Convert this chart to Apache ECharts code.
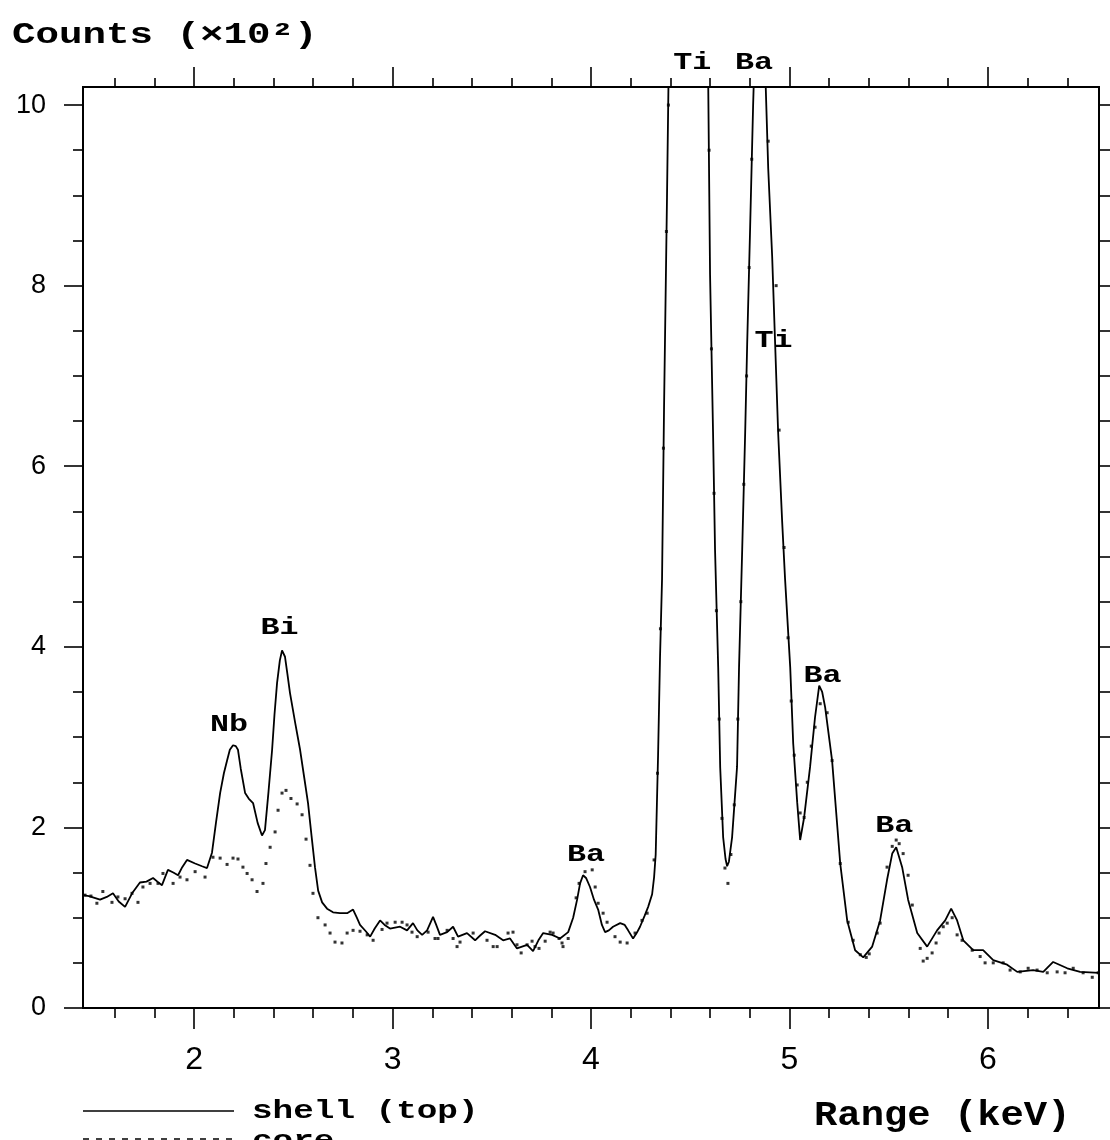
<!DOCTYPE html>
<html>
<head>
<meta charset="utf-8">
<script src="https://cdn.jsdelivr.net/npm/echarts@6/dist/echarts.min.js"></script>
<style>
  html, body { margin: 0; background: #fff; }
  #chart { width: 1110px; height: 1140px; }
</style>
</head>
<body>
<div id="chart"></div>
<script>
// spectrum (keV, counts x100)
const shellKeV = [
    1.44, 1.47, 1.526, 1.56, 1.591, 1.62, 1.652, 1.69, 1.727, 1.76, 1.793, 1.815, 1.838, 1.868, 1.895, 1.919,
    1.94, 1.964, 2.005, 2.04, 2.065, 2.09, 2.11, 2.131, 2.15, 2.166, 2.18, 2.196, 2.21, 2.221, 2.235, 2.257,
    2.275, 2.297, 2.32, 2.342, 2.357, 2.375, 2.393, 2.405, 2.418, 2.432, 2.443, 2.458, 2.47, 2.483, 2.51, 2.534,
    2.555, 2.574, 2.592, 2.609, 2.625, 2.645, 2.67, 2.7, 2.735, 2.771, 2.801, 2.82, 2.836, 2.865, 2.887, 2.91,
    2.937, 2.96, 2.987, 3.038, 3.073, 3.103, 3.125, 3.149, 3.174, 3.204, 3.22, 3.239, 3.275, 3.305, 3.33, 3.375,
    3.416, 3.44, 3.466, 3.517, 3.557, 3.592, 3.627, 3.678, 3.708, 3.735, 3.759, 3.804, 3.844, 3.885, 3.91, 3.93,
    3.945, 3.96, 3.975, 3.995, 4.015, 4.036, 4.055, 4.071, 4.09, 4.111, 4.147, 4.17, 4.187, 4.212, 4.23, 4.247,
    4.27, 4.288, 4.308, 4.318, 4.326, 4.338, 4.348, 4.358, 4.368, 4.383, 4.392, 4.44, 4.49, 4.54, 4.59, 4.6,
    4.615, 4.625, 4.641, 4.651, 4.666, 4.678, 4.686, 4.695, 4.711, 4.736, 4.746, 4.762, 4.777, 4.787, 4.802, 4.817,
    4.825, 4.85, 4.875, 4.893, 4.913, 4.928, 4.943, 4.963, 4.978, 5.004, 5.019, 5.039, 5.054, 5.074, 5.104, 5.129,
    5.15, 5.165, 5.18, 5.215, 5.256, 5.291, 5.331, 5.372, 5.417, 5.457, 5.492, 5.518, 5.538, 5.568, 5.598, 5.644,
    5.694, 5.744, 5.785, 5.815, 5.845, 5.876, 5.926, 5.976, 6.027, 6.097, 6.148, 6.228, 6.279, 6.329, 6.4, 6.465,
    6.56
];
const shellCounts = [
    1.25, 1.24, 1.2, 1.23, 1.27, 1.18, 1.12, 1.28, 1.39, 1.4, 1.44, 1.4, 1.36, 1.53, 1.5, 1.47,
    1.56, 1.64, 1.6, 1.57, 1.55, 1.72, 2.05, 2.38, 2.6, 2.74, 2.86, 2.91, 2.9, 2.86, 2.65, 2.38,
    2.32, 2.27, 2.05, 1.91, 1.97, 2.4, 2.86, 3.25, 3.6, 3.85, 3.96, 3.89, 3.7, 3.49, 3.15, 2.86,
    2.55, 2.27, 1.9, 1.56, 1.3, 1.17, 1.1, 1.06, 1.05, 1.05, 1.09, 1.0, 0.92, 0.85, 0.79, 0.88,
    0.97, 0.92, 0.88, 0.9, 0.86, 0.94, 0.86, 0.81, 0.86, 1.01, 0.92, 0.81, 0.84, 0.9, 0.79, 0.83,
    0.75, 0.8, 0.85, 0.81, 0.75, 0.77, 0.66, 0.7, 0.63, 0.75, 0.83, 0.81, 0.77, 0.84, 1.0, 1.2,
    1.38, 1.47, 1.44, 1.34, 1.2, 1.09, 0.92, 0.84, 0.86, 0.9, 0.94, 0.92, 0.86, 0.77, 0.83, 0.9,
    1.02, 1.12, 1.26, 1.45, 1.7, 2.8, 3.9, 4.75, 6.63, 8.98, 10.5, 16, 18, 16, 10.4, 8.12,
    6.38, 5.08, 3.77, 2.67, 1.89, 1.65, 1.57, 1.62, 1.89, 2.67, 3.77, 5.08, 6.38, 7.35, 8.65, 10.0,
    10.6, 12, 10.6, 9.3, 8.32, 7.35, 6.38, 5.4, 4.75, 3.77, 2.93, 2.28, 1.86, 2.11, 2.67, 3.22,
    3.57, 3.5, 3.33, 2.74, 1.6, 0.97, 0.64, 0.56, 0.68, 0.97, 1.42, 1.71, 1.78, 1.56, 1.2, 0.83,
    0.68, 0.86, 0.97, 1.1, 0.97, 0.75, 0.64, 0.64, 0.53, 0.48, 0.4, 0.42, 0.4, 0.51, 0.44, 0.4,
    0.39
];
const coreKeV = [
    1.45, 1.48, 1.51, 1.54, 1.586, 1.616, 1.652, 1.687, 1.717, 1.742, 1.778, 1.818, 1.843, 1.894, 1.929, 1.964,
    2.005, 2.055, 2.095, 2.131, 2.166, 2.196, 2.221, 2.246, 2.267, 2.292, 2.317, 2.347, 2.362, 2.383, 2.408, 2.423,
    2.443, 2.463, 2.488, 2.519, 2.544, 2.564, 2.584, 2.599, 2.624, 2.66, 2.685, 2.71, 2.745, 2.771, 2.801, 2.836,
    2.872, 2.902, 2.947, 2.972, 3.013, 3.048, 3.073, 3.098, 3.124, 3.179, 3.214, 3.229, 3.275, 3.305, 3.325, 3.34,
    3.406, 3.476, 3.507, 3.527, 3.582, 3.607, 3.627, 3.648, 3.678, 3.703, 3.718, 3.738, 3.769, 3.794, 3.809, 3.839,
    3.854, 3.859, 3.885, 3.925, 3.94, 3.97, 4.006, 4.021, 4.036, 4.061, 4.081, 4.121, 4.147, 4.182, 4.222, 4.257,
    4.283, 4.318, 4.335, 4.35, 4.365, 4.38, 4.39, 4.595, 4.607, 4.62, 4.632, 4.646, 4.66, 4.675, 4.69, 4.705,
    4.722, 4.74, 4.755, 4.77, 4.784, 4.797, 4.81, 4.893, 4.933, 4.948, 4.973, 4.993, 5.009, 5.024, 5.039, 5.054,
    5.074, 5.09, 5.11, 5.129, 5.155, 5.19, 5.215, 5.256, 5.296, 5.321, 5.357, 5.387, 5.402, 5.442, 5.457, 5.492,
    5.518, 5.538, 5.553, 5.573, 5.598, 5.619, 5.659, 5.674, 5.694, 5.719, 5.739, 5.754, 5.775, 5.795, 5.82, 5.845,
    5.87, 5.921, 5.961, 5.986, 6.027, 6.077, 6.112, 6.163, 6.203, 6.248, 6.299, 6.349, 6.389, 6.43, 6.48, 6.526,
    6.556
];
const coreCounts = [
    1.25, 1.24, 1.16, 1.29, 1.17, 1.23, 1.21, 1.27, 1.17, 1.34, 1.38, 1.38, 1.49, 1.38, 1.45, 1.42,
    1.51, 1.45, 1.67, 1.66, 1.59, 1.66, 1.65, 1.56, 1.49, 1.42, 1.29, 1.38, 1.6, 1.78, 1.95, 2.19,
    2.38, 2.41, 2.32, 2.26, 2.14, 1.87, 1.58, 1.27, 1.0, 0.92, 0.83, 0.73, 0.72, 0.83, 0.86, 0.85,
    0.81, 0.75, 0.87, 0.94, 0.95, 0.95, 0.92, 0.84, 0.79, 0.84, 0.77, 0.77, 0.86, 0.77, 0.68, 0.73,
    0.83, 0.75, 0.68, 0.68, 0.83, 0.84, 0.7, 0.61, 0.7, 0.74, 0.68, 0.66, 0.74, 0.84, 0.83, 0.77,
    0.72, 0.68, 0.77, 1.22, 1.38, 1.51, 1.53, 1.34, 1.16, 1.05, 0.95, 0.79, 0.73, 0.72, 0.83, 0.97,
    1.05, 1.64, 2.6, 4.2, 6.2, 8.6, 10.0, 9.5, 7.3, 5.7, 4.4, 3.2, 2.1, 1.55, 1.38, 1.7,
    2.25, 3.2, 4.5, 5.8, 7.0, 8.2, 9.4, 9.6, 8.0, 6.4, 5.1, 4.1, 3.4, 2.8, 2.47, 2.16,
    2.11, 2.5, 2.9, 3.11, 3.37, 3.27, 2.74, 1.6, 0.95, 0.75, 0.59, 0.56, 0.6, 0.83, 0.94, 1.56,
    1.79, 1.86, 1.82, 1.71, 1.47, 1.14, 0.66, 0.52, 0.55, 0.61, 0.72, 0.83, 0.9, 0.94, 1.0, 0.81,
    0.75, 0.64, 0.57, 0.5, 0.5, 0.5, 0.42, 0.4, 0.44, 0.42, 0.39, 0.4, 0.39, 0.44, 0.39, 0.34,
    0.39
];

// peak annotations (label centre in data units)
const peakNames = ["Ti", "Ba", "Ti", "Nb", "Bi", "Ba", "Ba", "Ba"];
const peakKeV = [4.51, 4.822, 4.92, 2.176, 2.43, 3.975, 5.167, 5.528];
const peakCounts = [10.46, 10.46, 7.39, 3.13, 4.21, 1.69, 3.68, 2.01];

const xMajorTicks = [2, 3, 4, 5, 6];
const xMinorTicks = [1.6, 1.8, 2.2, 2.4, 2.6, 2.8, 3.2, 3.4, 3.6, 3.8, 4.2, 4.4, 4.6, 4.8, 5.2, 5.4, 5.6, 5.8, 6.2, 6.4];
const yMajorTicks = [0, 2, 4, 6, 8, 10];
const yMinorTicks = [0.5, 1, 1.5, 2.5, 3, 3.5, 4.5, 5, 5.5, 6.5, 7, 7.5, 8.5, 9, 9.5];
const yRightTicks = [0, 0.5, 1, 1.5, 2, 2.5, 3, 3.5, 4, 4.5, 5, 5.5, 6, 6.5, 7, 7.5, 8, 8.5, 9, 9.5, 10];

const X_MIN = 1.44, X_MAX = 6.56, Y_MIN = 0, Y_MAX = 10.2;
const MONO = '"Liberation Mono", "Courier New", monospace';

function xAxis(position, ticks, len, withLabels) {
    return {
        type: "value", position: position, min: X_MIN, max: X_MAX,
        axisLine: { show: true, onZero: false, lineStyle: { color: "#000", width: 2 } },
        axisTick: { show: true, inside: false, length: len, customValues: ticks, lineStyle: { color: "#000", width: 1.6 } },
        axisLabel: withLabels
            ? { show: true, customValues: ticks, margin: 36, color: "#000", fontFamily: "Liberation Sans", fontSize: 32 }
            : { show: false },
        splitLine: { show: false },
    };
}

function yAxis(position, ticks, len, withLabels) {
    return {
        type: "value", position: position, min: Y_MIN, max: Y_MAX,
        axisLine: { show: true, onZero: false, lineStyle: { color: "#000", width: 2 } },
        axisTick: { show: true, inside: false, length: len, customValues: ticks, lineStyle: { color: "#000", width: 1.6 } },
        axisLabel: withLabels
            ? { show: true, customValues: ticks, margin: 37, color: "#000", fontFamily: "Liberation Sans", fontSize: 27 }
            : { show: false },
        splitLine: { show: false },
    };
}

function monoText(x, y, text, size, scaleX, align) {
    return {
        type: "text", x: x, y: y, scaleX: scaleX, z: 100,
        style: {
            text: text, font: "bold " + size + "px " + MONO, fill: "#000",
            textAlign: align || "left", textVerticalAlign: "middle",
        },
    };
}

const chart = echarts.init(document.getElementById("chart"));
chart.setOption({
    animation: false,
    backgroundColor: "#fff",
    grid: { left: 83, right: 11, top: 87, bottom: 132, containLabel: false },
    xAxis: [
        xAxis("bottom", xMajorTicks, 21, true),
        xAxis("bottom", xMinorTicks, 10, false),
        xAxis("top", xMajorTicks, 20, false),
        xAxis("top", xMinorTicks, 9, false),
    ],
    yAxis: [
        yAxis("left", yMajorTicks, 19, true),
        yAxis("left", yMinorTicks, 10, false),
        yAxis("right", yRightTicks, 12, false),
    ],
    series: [
        {
            name: "shell (top)", type: "line", xAxisIndex: 0, yAxisIndex: 0,
            data: shellKeV.map((k, i) => [k, shellCounts[i]]),
            symbol: "none", clip: true,
            lineStyle: { color: "#000", width: 1.8 },
        },
        {
            name: "core", type: "scatter", xAxisIndex: 0, yAxisIndex: 0,
            data: coreKeV.map((k, i) => [k, coreCounts[i]]),
            symbol: "rect", symbolSize: 3, clip: true,
            itemStyle: { color: "#000" },
        },
    ],
});

// texts: axis titles, legend and peak names
const graphics = [
    monoText(12, 36, "Counts (\u00d710\u00b2)", 29, 1.35),
    monoText(814, 1116, "Range (keV)", 35, 1.11),
    { type: "line", shape: { x1: 83, y1: 1111, x2: 234, y2: 1111 }, style: { stroke: "#000", lineWidth: 1.6 } },
    monoText(252, 1111, "shell (top)", 26, 1.32),
    { type: "line", shape: { x1: 83, y1: 1139, x2: 234, y2: 1139 }, style: { stroke: "#000", lineWidth: 1.6, lineDash: [6, 7] } },
    monoText(252, 1141, "core", 26, 1.32),
];
peakNames.forEach((name, i) => {
    const p = chart.convertToPixel({ xAxisIndex: 0, yAxisIndex: 0 }, [peakKeV[i], peakCounts[i]]);
    graphics.push(monoText(p[0], p[1], name, 23, 1.38, "center"));
});
chart.setOption({ graphic: graphics });
</script>
</body>
</html>
